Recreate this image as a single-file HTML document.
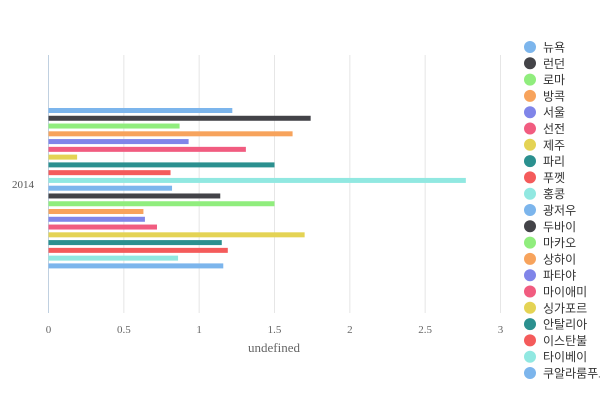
<!DOCTYPE html>
<html><head><meta charset="utf-8"><style>
html,body{margin:0;padding:0;background:#fff;width:600px;height:400px;overflow:hidden}
svg{display:block}
</style></head><body>
<svg id="chart" width="600" height="400" xmlns="http://www.w3.org/2000/svg">
<g id="grid"></g>
<g id="bars"></g>
<g id="xticks"></g>
<text x="12" y="188" font-family="Liberation Serif, serif" font-size="11" fill="#555">2014</text>
<text x="274" y="352" text-anchor="middle" font-family="Liberation Serif, serif" font-size="13" fill="#666">undefined</text>
<g id="legend"></g>
</svg>
<script>
const categories = ["2014"];
const seriesNames = ["뉴욕","런던","로마","방콕","서울","선전","제주","파리","푸껫","홍콩","광저우","두바이","마카오","상하이","파타야","마이애미","싱가포르","안탈리아","이스탄불","타이베이","쿠알라룸푸르"];
const seriesValues = [1.22,1.74,0.87,1.62,0.93,1.31,0.19,1.50,0.81,2.77,0.82,1.14,1.50,0.63,0.64,0.72,1.70,1.15,1.19,0.86,1.16];
const tickLabels = ["0","0.5","1","1.5","2","2.5","3"];
const tickValues = [0,0.5,1,1.5,2,2.5,3];
{
const colors = ["#7cb5ec","#434348","#90ed7d","#f7a35c","#8085e9","#f15c80","#e4d354","#2b908f","#f45b5b","#91e8e1"];
const NS="http://www.w3.org/2000/svg";
const x0=48.5, x1=500.5, xmax=3, plotTop=55, plotBottom=313;
function xs(v){return x0+(v/xmax)*(x1-x0);}
function el(t,a,p){const e=document.createElementNS(NS,t);for(const k in a)e.setAttribute(k,a[k]);p.appendChild(e);return e;}
const grid=document.getElementById('grid');
const xt=document.getElementById('xticks');
tickValues.forEach((v,i)=>{
  const l=el('line',{x1:xs(v),x2:xs(v),y1:plotTop,y2:plotBottom,stroke:i===0?'#c0d0e0':'#e6e6e6','stroke-width':1},grid);
  
  
  const t=el('text',{x:xs(v),y:333,'text-anchor':'middle','font-family':'Liberation Serif, serif','font-size':11,fill:'#666'},xt);
  t.textContent=tickLabels[i];
  
  
});
const bars=document.getElementById('bars');
const bandTop=108, step=7.77, bh=5;
seriesValues.forEach((v,i)=>{
  const r=el('rect',{x:x0,y:bandTop+i*step,width:Math.max(0,xs(v)-x0),height:bh,fill:colors[i%10]},bars);
  
  
});
const lg=document.getElementById('legend');
seriesNames.forEach((s,i)=>{
  const y=47+i*16.3;
  const g=el('g',{},lg);
  
  
  el('circle',{cx:530,cy:y,r:6,fill:colors[i%10]},g);
  const t=el('text',{x:543,y:y+4.5,'font-family':'Liberation Sans, Noto Sans CJK KR, sans-serif','font-size':12,fill:'#333'},g);
  t.textContent=s;
});
}
</script>
</body></html>
